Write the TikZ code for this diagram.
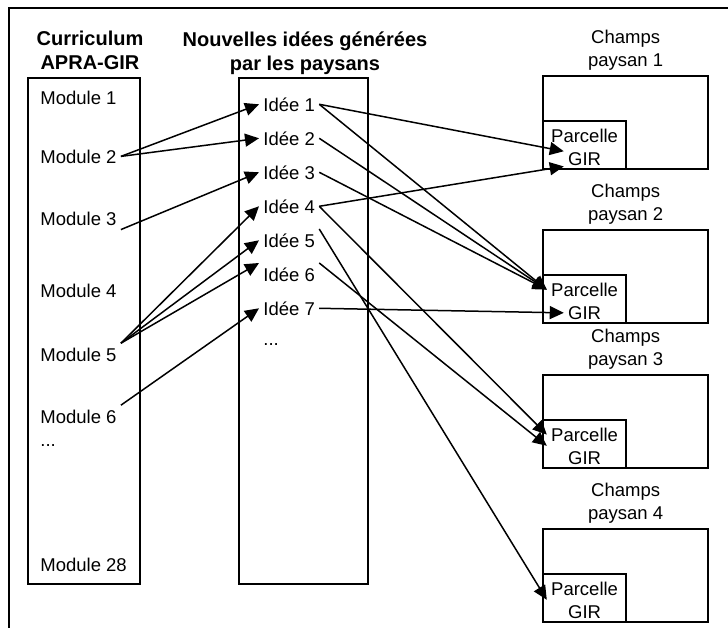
\documentclass[tikz,border=0pt]{standalone}
\usepackage{fontspec}
\setmainfont{Liberation Sans}
\usetikzlibrary{arrows.meta,calc,positioning}

\begin{document}
\begin{tikzpicture}[x=0.5pt,y=-0.5pt,
    font=\fontsize{9.25}{11.5}\selectfont,
    every node/.style={inner sep=2pt},
    box/.style={draw,line width=1.1pt},
    titre/.style={font=\bfseries,align=center,anchor=north},
    lbl/.style={align=center},
    txt/.style={anchor=base west},
    champ/.style={box,minimum width=82.5pt,minimum height=46.5pt},
    parc/.style={box,minimum width=41.5pt,minimum height=24pt},
    fleche/.style={-{Triangle[length=7pt,width=6.5pt]},line width=0.75pt}]
  \useasboundingbox (0,0) rectangle (728,628);
  \draw[line width=1.1pt] (728,8) -| (9,628);

  % colonnes
  \draw[box] (28,78) rectangle (140,584);
  \draw[box] (239,78) rectangle (368,584);
  \node[titre] (tc) at (90,27) {Curriculum\\APRA-GIR};
  \node[titre] (ti) at (305,27) {Nouvelles idées générées\\par les paysans};

  % modules
  \node[txt] (m1)  at (36,104) {Module 1};
  \node[txt] (m2)  at (36,163) {Module 2};
  \node[txt] (m3)  at (36,225) {Module 3};
  \node[txt] (m4)  at (36,297) {Module 4};
  \node[txt] (m5)  at (36,361) {Module 5};
  \node[txt] (m6)  at (36,423) {Module 6};
  \node[txt] (md)  at (36,446) {...};
  \node[txt] (m28) at (36,571) {Module 28};

  % idees
  \foreach \i in {1,...,7}
    \node[txt] (i\i) at (259,{111+34*(\i-1)}) {Idée \i};
  \node[txt] (id) at (259,345) {...};

  % champs
  \foreach \k/\t in {1/75,2/229,3/374,4/528} {
    \node[champ,anchor=north west] (ch\k) at (542,\t) {};
    \node[lbl,above=0pt of ch\k] (lb\k) {Champs\\paysan \k};
    \node[parc,anchor=south west] (pc\k) at (ch\k.south west) {};
    \node[anchor=base] (pa\k) at ($(pc\k.south)+(0,-28)$) {Parcelle};
    \node[anchor=base] (gi\k) at ($(pc\k.south)+(0,-5)$) {GIR};
  }

  \path[fleche] (m2.east)        edge (i1.west)
                (m2.east)        edge (i2.west)
                (m3.south east)  edge (i3.west)
                (m5.north east)  edge (i4.west)
                (m5.north east)  edge (i5.west)
                (m5.north east)  edge (i6.north west)
                (m6.north east)  edge (i7.west)
                (i1.east)        edge (gi1.160)
                (i4.east)        edge (gi1.200)
                (i1.east)        edge (pa2.west)
                (i2.east)        edge (pa2.west)
                (i3.east)        edge (pa2.west)
                (i7.east)        edge (gi2.west)
                (i4.east)        edge (pa3.west)
                (i6.north east)  edge (pa3.south west)
                (i5.north east)  edge (pa4.south west);
\end{tikzpicture}
\end{document}
